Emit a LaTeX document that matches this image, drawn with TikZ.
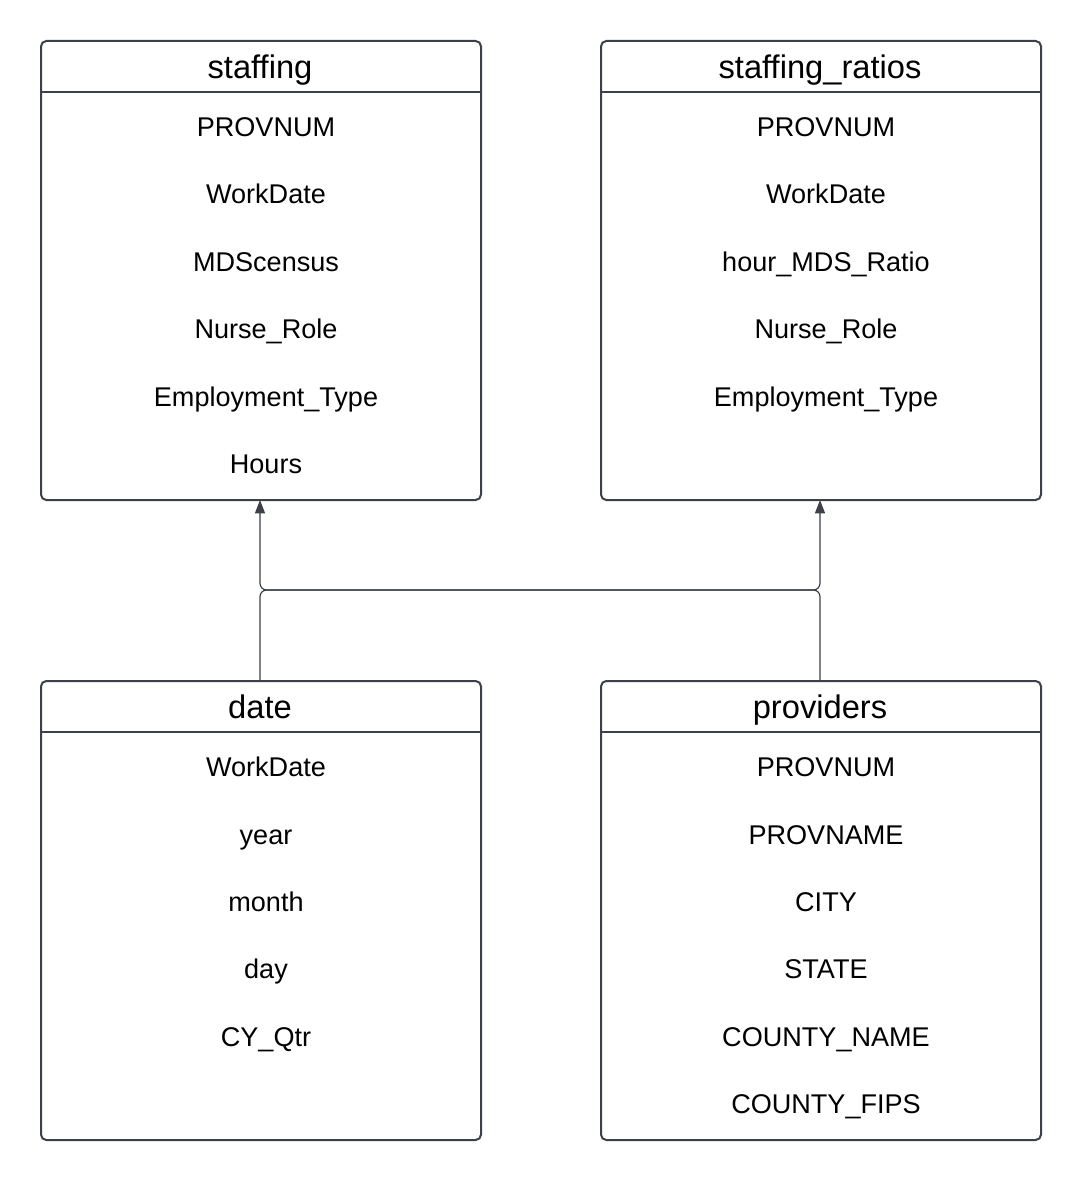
\documentclass[tikz,border=0pt]{standalone}
\usepackage{fontspec}
\setmainfont{Liberation Sans}
\usetikzlibrary{arrows.meta}
\definecolor{edge}{HTML}{3B404A}
\tikzset{
  x=0.75pt, y=-0.75pt,
  entbox/.style={draw=edge, line width=1.5pt, rounded corners=4pt},
  sepline/.style={draw=edge, line width=1.3pt},
  title/.style={font=\fontsize{24.5}{28}\selectfont, text=black, anchor=center, inner sep=0pt, text height=17.6pt, text depth=0pt},
  attr/.style={font=\fontsize{20.3}{24}\selectfont, text=black, anchor=center, inner sep=0pt, text height=14.6pt, text depth=0pt},
  rel/.style={draw=edge, line width=0.9pt, rounded corners=5pt, -{Triangle[length=10pt,width=7.5pt]}}
}
\begin{document}
\begin{tikzpicture}
\useasboundingbox (0,0) rectangle (1080,1180);
% staffing
\node[entbox, minimum width=330pt, minimum height=344.25pt, anchor=north west] (staffing) at (40,40) {};
\draw[sepline] (40,92) -- (480,92);
\node[title] (t1) at (260,67) {staffing};
\node[attr] (s1) at (266,127) {PROVNUM};
\node[attr] (s2) at (266,194) {WorkDate};
\node[attr] (s3) at (266,262) {MDScensus};
\node[attr] (s4) at (266,329) {Nurse\_Role};
\node[attr] (s5) at (266,397) {Employment\_Type};
\node[attr] (s6) at (266,464) {Hours};
% staffing_ratios
\node[entbox, minimum width=330pt, minimum height=344.25pt, anchor=north west] (ratios) at (600,40) {};
\draw[sepline] (600,92) -- (1040,92);
\node[title] (t2) at (820,67) {staffing\_ratios};
\node[attr] (r1) at (826,127) {PROVNUM};
\node[attr] (r2) at (826,194) {WorkDate};
\node[attr] (r3) at (826,262) {hour\_MDS\_Ratio};
\node[attr] (r4) at (826,329) {Nurse\_Role};
\node[attr] (r5) at (826,397) {Employment\_Type};
% date
\node[entbox, minimum width=330pt, minimum height=344.25pt, anchor=north west] (date) at (40,680) {};
\draw[sepline] (40,732) -- (480,732);
\node[title] (t3) at (260,707) {date};
\node[attr] (d1) at (266,767) {WorkDate};
\node[attr] (d2) at (266,835) {year};
\node[attr] (d3) at (266,902) {month};
\node[attr] (d4) at (266,969) {day};
\node[attr] (d5) at (266,1037) {CY\_Qtr};
% providers
\node[entbox, minimum width=330pt, minimum height=344.25pt, anchor=north west] (prov) at (600,680) {};
\draw[sepline] (600,732) -- (1040,732);
\node[title] (t4) at (820,707) {providers};
\node[attr] (p1) at (826,767) {PROVNUM};
\node[attr] (p2) at (826,835) {PROVNAME};
\node[attr] (p3) at (826,902) {CITY};
\node[attr] (p4) at (826,969) {STATE};
\node[attr] (p5) at (826,1037) {COUNTY\_NAME};
\node[attr] (p6) at (826,1104) {COUNTY\_FIPS};
% connectors
\coordinate (dtop) at (260,680);
\coordinate (ptop) at (820,680);
\coordinate (sbot) at (260,500);
\coordinate (rbot) at (820,500);
\draw[rel] (dtop) -- (260,590) -- (820,590) -- (rbot);
\draw[rel] (ptop) -- (820,590) -- (260,590) -- (sbot);
\end{tikzpicture}
\end{document}
